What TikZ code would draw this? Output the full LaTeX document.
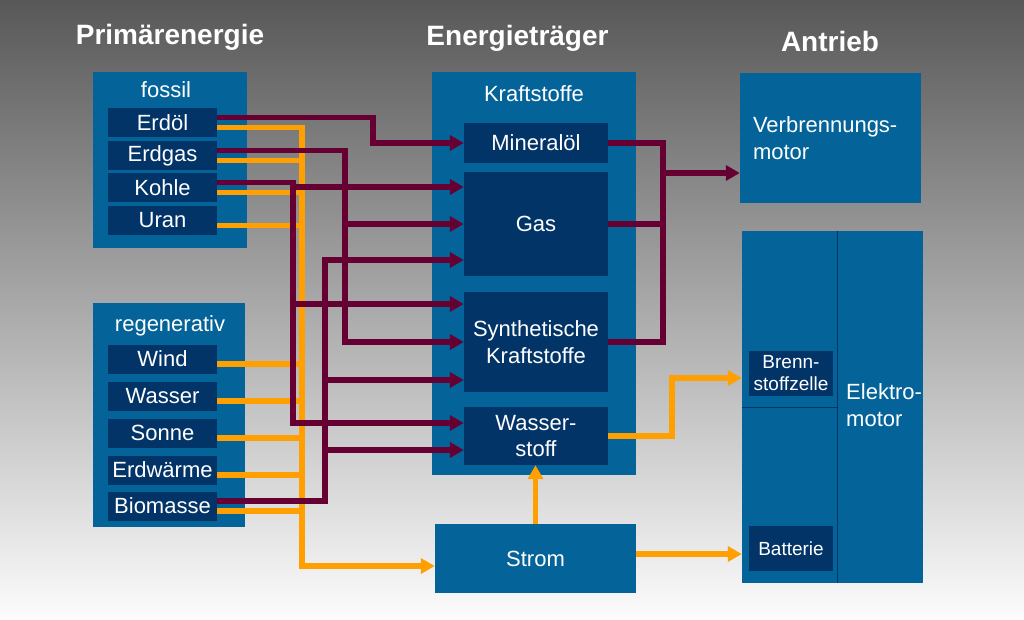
\documentclass[tikz,border=0pt]{standalone}
\usepackage{fontspec}
\setmainfont{Liberation Sans}
\usepackage{xcolor}
\usetikzlibrary{arrows.meta}

\definecolor{boxblue}{RGB}{4,99,153}
\definecolor{boxnavy}{RGB}{3,52,103}
\definecolor{wine}{RGB}{102,0,51}
\definecolor{amber}{RGB}{255,160,0}
\definecolor{bgtop}{RGB}{88,88,88}
\definecolor{bgmid}{RGB}{192,192,192}
\definecolor{bgbot}{RGB}{252,252,252}

\begin{document}
\begin{tikzpicture}[x=1pt,y=-1pt,
    every node/.style={inner sep=0pt,text=white},
    title/.style={font=\bfseries\fontsize{28}{32}\selectfont},
    txt/.style={font=\fontsize{22}{26.5}\selectfont,align=center},
    small/.style={font=\fontsize{19}{22}\selectfont,align=center},
    group/.style={fill=boxblue},
    fuel/.style={fill=boxnavy,txt,minimum width=144pt},
    cell/.style={fill=boxnavy,small,minimum width=84pt,minimum height=45pt},
    fed/.style={draw=wine,line width=5.5pt},
    fedto/.style={fed,-{Triangle[length=14pt,width=15pt]}},
    el/.style={draw=amber,line width=5.5pt},
    elto/.style={el,-{Triangle[length=14pt,width=15pt]}}]

    % background
    \shade[top color=bgtop,middle color=bgmid,bottom color=bgbot] (0,0) rectangle (1024,619);
    \useasboundingbox (0,0) rectangle (1024,619);

    \node[title] (hprim) at (170,37.5) {Primärenergie};
    \node[title] (htraeger) at (517.5,38.5) {Energieträger};
    \node[title] (hantrieb) at (830,41) {Antrieb};

    % Primaerenergie
    \node[group,minimum width=154pt,minimum height=176pt] (fossil) at (170,160) {};
    \node[txt] (lfossil) at (166,89.5) {fossil};
    \node[group,minimum width=152pt,minimum height=224pt] (regen) at (169,415) {};
    \node[txt] (lregen) at (170,326) {regenerativ};

    \begin{scope}[every node/.append style={fill=boxnavy,txt,minimum width=109pt,minimum height=29pt}]
      \node (erdoel) at (162.5,122.5) {Erdöl};
      \node (erdgas) at (162.5,155.5) {Erdgas};
      \node (kohle) at (162.5,187.5) {Kohle};
      \node (uran) at (162.5,220.5) {Uran};
      \node (wind) at (162.5,359) {Wind};
      \node (wasser) at (162.5,396) {Wasser};
      \node (sonne) at (162.5,433) {Sonne};
      \node (erdwaerme) at (162.5,470) {Erdwärme};
      \node (biomasse) at (162.5,506) {Biomasse};
    \end{scope}

    % Energietraeger
    \node[group,minimum width=204pt,minimum height=403pt] (kraft) at (534,273.5) {};
    \node[txt] (lkraft) at (534,93.5) {Kraftstoffe};
    \node[fuel,minimum height=40pt] (mineraloel) at (536,143) {Mineralöl};
    \node[fuel,minimum height=104pt] (gas) at (536,224) {Gas};
    \node[fuel,minimum height=100pt] (synth) at (536,342) {Synthetische\\Kraftstoffe};
    \node[fuel,minimum height=58pt] (wasserstoff) at (536,436) {Wasser-\\stoff};
    \node[group,txt,minimum width=201pt,minimum height=69pt] (strom) at (535.5,558.5) {Strom};

    % Antrieb
    \node[group,txt,align=left,text width=155pt,minimum width=181pt,minimum height=130pt] (verb) at (830.5,138) {Verbrennungs-\\motor};
    \node[group,minimum width=181pt,minimum height=352pt] (elektro) at (832.5,407) {};
    \draw[boxnavy,line width=1pt] ([xshift=4.5pt]elektro.north) -- ([xshift=4.5pt]elektro.south);
    \draw[boxnavy,line width=1pt] (elektro.west) -- ([xshift=4.5pt]elektro.center);
    \node[cell] (bz) at (791,373.5) {Brenn-\\stoffzelle};
    \node[cell] (batterie) at (791,548.5) {Batterie};
    \node[txt,align=left,anchor=west] (lelektro) at (846,405) {Elektro-\\motor};

    \coordinate (bus) at (302,566);
    \coordinate (kx) at (293,0);
    \coordinate (bx) at (325,0);
    \coordinate (gx) at (345,0);
    \coordinate (ox) at (663,0);
    \coordinate (hx) at (672,378);

    % Strom
    \foreach \s in {erdoel,erdgas,kohle,uran,wind,wasser,sonne,erdwaerme,biomasse}
      \draw[el] ([yshift=-5pt]\s.east) -| (bus);
    \draw[elto,line cap=rect] (bus) -- (bus -| strom.west);
    \draw[elto] (strom.north) -- (strom.north |- wasserstoff.south);
    \draw[elto] (wasserstoff.east) -| (hx) -- (hx -| elektro.west);
    \draw[elto] ([yshift=4.5pt]strom.east) -- ([yshift=4.5pt]strom.east -| elektro.west);

    % Kraftstoffe
    \draw[fedto] ([yshift=5pt]erdoel.east) -| ([xshift=-91pt]mineraloel.west) -- (mineraloel.west);
    \draw[fedto] ([yshift=5pt]erdgas.east) -| (synth.west -| gx) -- (synth.west);
    \draw[fedto] (gas.west -| gx) -- (gas.west);
    \draw[fedto] ([yshift=5pt]kohle.east) -| ([yshift=13pt]wasserstoff.west -| kx) -- ([yshift=13pt]wasserstoff.west);
    \draw[fedto] ([yshift=37pt]gas.west -| kx) -- ([yshift=37pt]gas.west);
    \draw[fedto] ([yshift=38pt]synth.west -| kx) -- ([yshift=38pt]synth.west);
    \draw[fedto] ([yshift=5pt]biomasse.east) -| ([yshift=-36pt]gas.west -| bx) -- ([yshift=-36pt]gas.west);
    \draw[fedto] ([yshift=-38pt]synth.west -| bx) -- ([yshift=-38pt]synth.west);
    \draw[fedto] ([yshift=-14pt]wasserstoff.west -| bx) -- ([yshift=-14pt]wasserstoff.west);

    \draw[fed] (mineraloel.east) -| (synth.east -| ox) -- (synth.east);
    \draw[fed] (gas.east) -- (gas.east -| ox);
    \draw[fedto] ([yshift=-35pt]verb.west -| ox) -- ([yshift=-35pt]verb.west);
  \end{tikzpicture}
\end{document}
